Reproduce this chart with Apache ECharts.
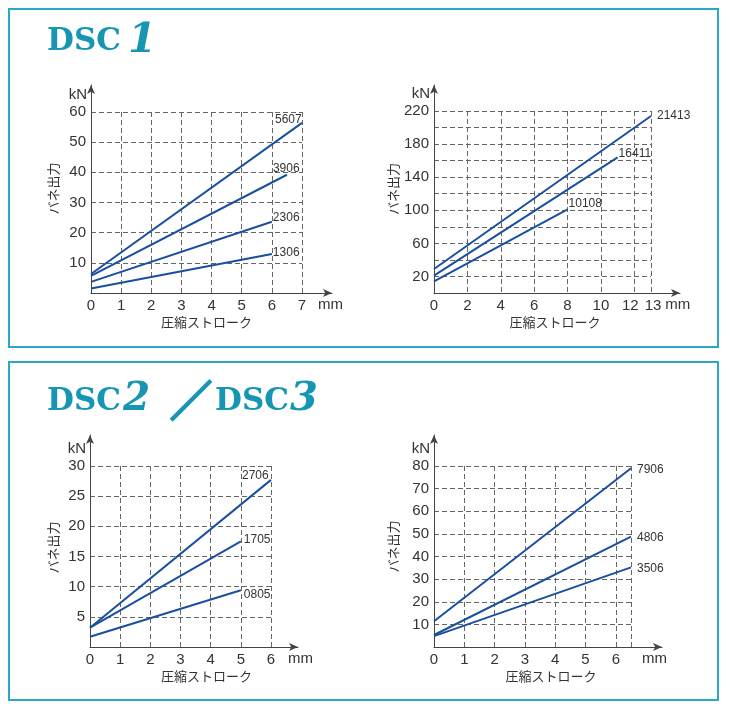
<!DOCTYPE html>
<html><head><meta charset="utf-8">
<script src="https://cdn.jsdelivr.net/npm/echarts@6.0.0/dist/echarts.min.js"></script>
<style>html,body{margin:0;padding:0;background:#fff}#c{width:730px;height:710px}</style>
</head><body><div id="c"></div>
<script>
// ---------------- DATA ----------------
// DSC1 (left): stroke mm -> spring force kN
const dsc1aNames  = ['5607', '3906', '2306', '1306'];
const dsc1aStroke = [7, 6.5, 6, 6];
const dsc1aForce0 = [6.3, 5.7, 3.7, 1.5];
const dsc1aForce1 = [56.4, 39.2, 23.6, 12.9];
const dsc1aXTicks = [0, 7, 1];      // min, max, interval
const dsc1aYTicks = [0, 60, 10];

// DSC1 (right)
const dsc1bNames  = ['21413', '16411', '10108'];
const dsc1bStroke = [13, 11, 8];
const dsc1bForce0 = [29, 21, 14];
const dsc1bForce1 = [214, 164, 101];
const dsc1bXTicks = [0, 13, 2];
const dsc1bYTicks = [0, 220, 20];

// DSC2 / DSC3 (left)
const dsc2aNames  = ['2706', '1705', '0805'];
const dsc2aStroke = [6, 5, 5];
const dsc2aForce0 = [3.2, 3.2, 1.7];
const dsc2aForce1 = [27.7, 17.5, 9.4];
const dsc2aXTicks = [0, 6, 1];
const dsc2aYTicks = [0, 30, 5];

// DSC2 / DSC3 (right)
const dsc2bNames  = ['7906', '4806', '3506'];
const dsc2bStroke = [6.5, 6.5, 6.5];
const dsc2bForce0 = [11.4, 5.3, 4.8];
const dsc2bForce1 = [79, 48.8, 35.2];
const dsc2bXTicks = [0, 6.5, 1];
const dsc2bYTicks = [0, 80, 10];

const xName = 'mm', yUnit = 'kN', xTitle = '圧縮ストローク', yTitle = 'バネ出力';
const title1 = ['DSC', '1'];
const title2 = ['DSC', '2', '／', 'DSC', '3'];

// ---------------- STYLE / LAYOUT ----------------
const TEAL = '#1796b3', BORDER = '#2aa8c4', LINE = '#1a4f9f', TXT = '#333', GRIDC = '#666';
const SANS = '"Liberation Sans", Arial, sans-serif';
const JP = '"Noto Sans CJK JP", sans-serif';

const grids = [
  {left: 91,  top: 112, width: 211, height: 181},
  {left: 434, top: 111, width: 217, height: 182},
  {left: 90,  top: 466, width: 181, height: 181},
  {left: 434, top: 466, width: 197, height: 181}
];
const arrowGrids = [
  {left: 91,  top: 85,  width: 241, height: 208},
  {left: 434, top: 85,  width: 246, height: 208},
  {left: 90,  top: 435, width: 208, height: 212},
  {left: 434, top: 435, width: 228, height: 212}
];
const mmGap = [16, 9, 17, 11];
const xTitlePad = [20, 25, 52, 37];
const yTitleGap = [31, 34, 30, 34];
const yTitlePad = [28, 26, 18, 20];
const labelOffsets = {
  '5607': [-27, -3], '3906': [-14, -6], '2306': [1, -4], '1306': [1, -1],
  '21413': [6, 0], '16411': [1, -4], '10108': [1, -6],
  '2706': [-29, -4], '1705': [3, -1.5], '0805': [3, 4],
  '7906': [6, 1], '4806': [6, 1], '3506': [6, 1]
};

const charts = [
  {names: dsc1aNames, stroke: dsc1aStroke, f0: dsc1aForce0, f1: dsc1aForce1, xt: dsc1aXTicks, yt: dsc1aYTicks,
   yFmt: v => v === 0 ? '' : String(v), xFmt: v => String(v)},
  {names: dsc1bNames, stroke: dsc1bStroke, f0: dsc1bForce0, f1: dsc1bForce1, xt: dsc1bXTicks, yt: dsc1bYTicks,
   yFmt: v => (v % 40 === 20 ? String(v) : ''),
   xFmt: v => v === 12 ? '{l|12}' : v === 13 ? '{r|13}' : String(v)},
  {names: dsc2aNames, stroke: dsc2aStroke, f0: dsc2aForce0, f1: dsc2aForce1, xt: dsc2aXTicks, yt: dsc2aYTicks,
   yFmt: v => v === 0 ? '' : String(v), xFmt: v => String(v)},
  {names: dsc2bNames, stroke: dsc2bStroke, f0: dsc2bForce0, f1: dsc2bForce1, xt: dsc2bXTicks, yt: dsc2bYTicks,
   yFmt: v => v === 0 ? '' : String(v), xFmt: v => (Math.round(v) === v ? String(v) : '')}
];

const option = {animation: false, backgroundColor: '#fff', grid: [], xAxis: [], yAxis: [], series: [], graphic: []};
const labelRich = {
  l: {fontSize: 15, color: TXT, fontFamily: SANS, padding: [0, 8, 0, 0]},
  r: {fontSize: 15, color: TXT, fontFamily: SANS, padding: [0, 0, 0, 4]}
};

charts.forEach((c, i) => {
  const g = grids[i];
  option.grid.push(Object.assign({outerBoundsMode: 'none', containLabel: false, show: false}, g));
  option.xAxis.push({
    type: 'value', gridIndex: i, min: c.xt[0], max: c.xt[1], interval: c.xt[2],
    axisLine: {show: false}, axisTick: {show: false},
    axisLabel: {show: true, formatter: c.xFmt, margin: 5, fontSize: 15, color: TXT, fontFamily: SANS,
                showMinLabel: true, showMaxLabel: true, rich: labelRich},
    splitLine: {show: true, lineStyle: {color: GRIDC, width: 1, type: [5, 3]}},
    name: xName, nameLocation: 'end', nameGap: mmGap[i],
    nameTextStyle: {fontSize: 15, color: TXT, fontFamily: SANS, align: 'left', verticalAlign: 'top', padding: [4, 0, 0, 0]}
  });
  option.yAxis.push({
    type: 'value', gridIndex: i, min: c.yt[0], max: c.yt[1], interval: c.yt[2],
    axisLine: {show: false}, axisTick: {show: false},
    axisLabel: {show: true, formatter: c.yFmt, margin: 5, fontSize: 15, color: TXT, fontFamily: SANS, showMinLabel: true, showMaxLabel: true},
    splitLine: {show: true, lineStyle: {color: GRIDC, width: 1, type: [5, 3]}},
    name: yUnit, nameLocation: 'end', nameGap: 17,
    nameTextStyle: {fontSize: 15, color: TXT, fontFamily: SANS, align: 'right', verticalAlign: 'middle', padding: [0, 4, 0, 0]}
  });
  c.names.forEach((n, k) => {
    const off = labelOffsets[n];
    option.series.push({
      type: 'line', name: n, xAxisIndex: i, yAxisIndex: i,
      data: [[0, c.f0[k]], [c.stroke[k], c.f1[k]]],
      showSymbol: false, symbol: 'none', silent: true,
      lineStyle: {color: LINE, width: 2}, itemStyle: {color: LINE},
      endLabel: {show: true, formatter: n, distance: 0, offset: off, align: 'left', verticalAlign: 'middle',
                 fontSize: 12, color: TXT, fontFamily: SANS}
    });
  });
});

// overlay grids: axis lines with arrows
arrowGrids.forEach((g, j) => {
  const i = 4 + j;
  option.grid.push(Object.assign({outerBoundsMode: 'none', containLabel: false, show: false}, g));
  option.xAxis.push({
    type: 'value', gridIndex: i, min: 0, max: 1,
    axisLine: {show: true, symbol: ['none', 'arrow'], symbolSize: [6, 9], lineStyle: {color: '#444', width: 1}},
    axisTick: {show: false}, axisLabel: {show: false}, splitLine: {show: false}
  });
  option.yAxis.push({
    type: 'value', gridIndex: i, min: 0, max: 1,
    axisLine: {show: true, symbol: ['none', 'arrow'], symbolSize: [6, 9], lineStyle: {color: '#444', width: 1}},
    axisTick: {show: false}, axisLabel: {show: false}, splitLine: {show: false}
  });
});

// centred axis titles via extra invisible axes sharing the main grids
charts.forEach((c, i) => {
  option.xAxis.push({
    type: 'value', gridIndex: i, min: 0, max: 1, position: 'bottom',
    axisLine: {show: false}, axisTick: {show: false}, axisLabel: {show: false}, splitLine: {show: false},
    name: xTitle, nameLocation: 'middle', nameGap: 23,
    nameTextStyle: {fontSize: 13, color: TXT, fontFamily: JP, padding: [0, 0, 0, xTitlePad[i]]}
  });
  option.yAxis.push({
    type: 'value', gridIndex: i, min: 0, max: 1, position: 'left',
    axisLine: {show: false}, axisTick: {show: false}, axisLabel: {show: false}, splitLine: {show: false},
    name: yTitle, nameLocation: 'middle', nameGap: yTitleGap[i], nameRotate: 90,
    nameTextStyle: {fontSize: 13, color: TXT, fontFamily: JP, padding: [0, 0, 0, yTitlePad[i]]}
  });
});

// panel borders and headings
const headStyle = (text, font, extra) => Object.assign({text, font, fill: TEAL, verticalAlign: 'middle'}, extra || {});
option.graphic = [
  {type: 'rect', shape: {x: 9, y: 9, width: 709, height: 338}, style: {fill: 'none', stroke: BORDER, lineWidth: 2}, silent: true},
  {type: 'rect', shape: {x: 9, y: 362, width: 709, height: 338}, style: {fill: 'none', stroke: BORDER, lineWidth: 2}, silent: true},
  {type: 'text', x: 47, y: 41.5, style: headStyle(title1[0], 'bold 31px "DejaVu Serif"')},
  {type: 'text', x: 128, y: 41, style: headStyle(title1[1], 'italic bold 41px "DejaVu Serif"')},
  {type: 'text', x: 47, y: 401.5, style: headStyle(title2[0], 'bold 31px "DejaVu Serif"')},
  {type: 'text', x: 123, y: 400, style: headStyle(title2[1], 'italic bold 39px "DejaVu Serif"')},
  {type: 'text', x: 170, y: 400, style: headStyle(title2[2], '42px "Noto Sans CJK JP"', {stroke: TEAL, lineWidth: 2.5})},
  {type: 'text', x: 215, y: 401.5, style: headStyle(title2[3], 'bold 31px "DejaVu Serif"')},
  {type: 'text', x: 290, y: 400, style: headStyle(title2[4], 'italic bold 40px "DejaVu Serif"')}
];

const chart = echarts.init(document.getElementById('c'), null, {renderer: 'canvas'});
chart.setOption(option);
</script></body></html>
